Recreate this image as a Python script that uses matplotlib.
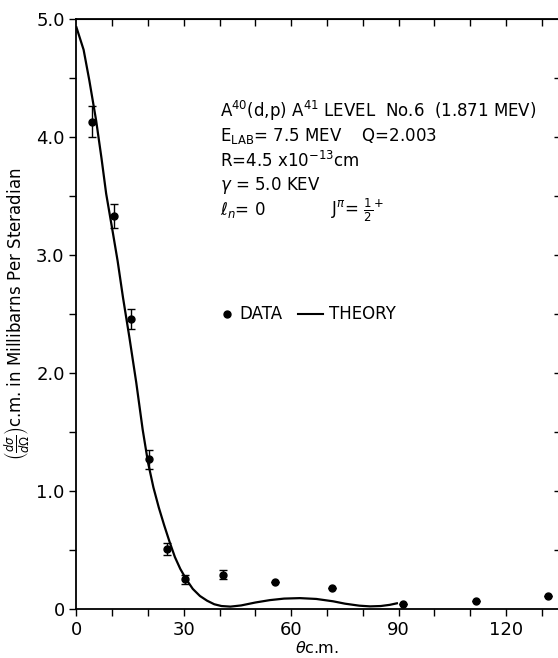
import numpy as np
import matplotlib
matplotlib.use("Agg")
import matplotlib.pyplot as plt

#measured cross sections, A40(d,p)A41 level 6
theta = [4.4, 10.4, 15.1, 20.4, 25.4, 30.4, 40.8, 55.4, 71.3, 91.1, 111.6, 131.6]
sigma = [4.13, 3.33, 2.46, 1.27, 0.51, 0.25, 0.29, 0.23, 0.18, 0.04, 0.065, 0.11]
sigma_err = [0.13, 0.10, 0.085, 0.08, 0.05, 0.04, 0.04, 0, 0, 0, 0, 0]

#theory curve
theta_th = [0, 2.0, 3.6, 5.5, 7.0, 8.3, 10.0, 11.5, 13.0, 14.8, 16.7, 18.5, 20.0,
            21.5, 23.0, 24.5, 26.0, 27.5, 29.0, 30.7, 32.5, 34.5, 36.5, 38.5, 40.5,
            43.0, 46.0, 50.0, 54.0, 58.0, 62.4, 67.0, 71.7, 75.0, 79.0, 82.0, 85.0,
            87.5, 89.5]
sigma_th = [4.93, 4.74, 4.48, 4.14, 3.82, 3.52, 3.22, 2.95, 2.64, 2.30, 1.92, 1.52, 1.24,
            1.03, 0.86, 0.71, 0.57, 0.44, 0.34, 0.25, 0.17, 0.11, 0.07, 0.04, 0.025,
            0.02, 0.03, 0.055, 0.075, 0.088, 0.092, 0.085, 0.065, 0.045, 0.028, 0.022, 0.025,
            0.035, 0.048]

xticks = [0, 30, 60, 90, 120]
yticks = [0, 1, 2, 3, 4, 5]
ytick_labels = ["0", "1.0", "2.0", "3.0", "4.0", "5.0"]

fig = plt.figure(figsize=(5.58, 6.58), dpi=100)
ax = fig.add_axes([0.137, 0.0745, 0.863, 0.8965])

ax.plot(theta_th, sigma_th, color="black", lw=1.6)
ax.errorbar(theta, sigma, yerr=sigma_err, fmt="o", color="black", ms=5,
            capsize=3, elinewidth=1, capthick=1)

ax.set_xlim(0, 134.5)
ax.set_ylim(0, 5.0)
ax.set_xticks(xticks)
ax.set_xticklabels([str(t) for t in xticks])
ax.set_xticks(np.arange(10, 135, 10), minor=True)
ax.set_yticks(yticks)
ax.set_yticklabels(ytick_labels)
ax.set_yticks(np.arange(0.5, 5, 1.0), minor=True)

ax.tick_params(which="both", direction="out", labelsize=13, length=5, width=1)
ax.spines["right"].set_visible(False)
for s in ["left", "bottom", "top"]:
    ax.spines[s].set_linewidth(1.3)

#top ticks point inward, right side only shows little ticks at the edge
top = ax.secondary_xaxis("top")
top.set_xticks(np.arange(10, 135, 10))
top.tick_params(direction="in", length=5, width=1, labeltop=False)
right = ax.secondary_yaxis("right")
right.set_yticks(np.arange(0.5, 5, 0.5))
right.tick_params(direction="in", length=3, width=1, labelright=False)
right.spines["right"].set_visible(False)

ax.set_xlabel(r"$\theta$c.m.", fontsize=11.5, labelpad=1)
ax.set_ylabel(r"$\left(\frac{d\sigma}{d\Omega}\right)$c.m. in Millibarns Per Steradian",
              fontsize=12, labelpad=3)

#reaction parameters
fs = 12
x0 = 40
ax.text(x0, 4.22, r"A$^{40}$(d,p) A$^{41}$ LEVEL  No.6  (1.871 MEV)", fontsize=fs, va="center")
ax.text(x0, 4.01, r"E$_{\mathrm{LAB}}$= 7.5 MEV    Q=2.003", fontsize=fs, va="center")
ax.text(x0, 3.80, r"R=4.5 x10$^{-13}$cm", fontsize=fs, va="center")
ax.text(x0, 3.59, r"$\gamma$ = 5.0 KEV", fontsize=fs, va="center")
ax.text(x0, 3.38, r"$\ell_n$= 0", fontsize=fs, va="center")
ax.text(71, 3.38, r"J$^{\pi}$= $\frac{1}{2}^{+}$", fontsize=fs, va="center")

#legend drawn by hand like the original
ax.plot([42], [2.5], "o", color="black", ms=5)
ax.text(45.5, 2.5, "DATA", fontsize=fs, va="center")
ax.plot([62, 69], [2.5, 2.5], color="black", lw=1.5)
ax.text(70.5, 2.5, "THEORY", fontsize=fs, va="center")

fig.savefig("out.png", dpi=100)
